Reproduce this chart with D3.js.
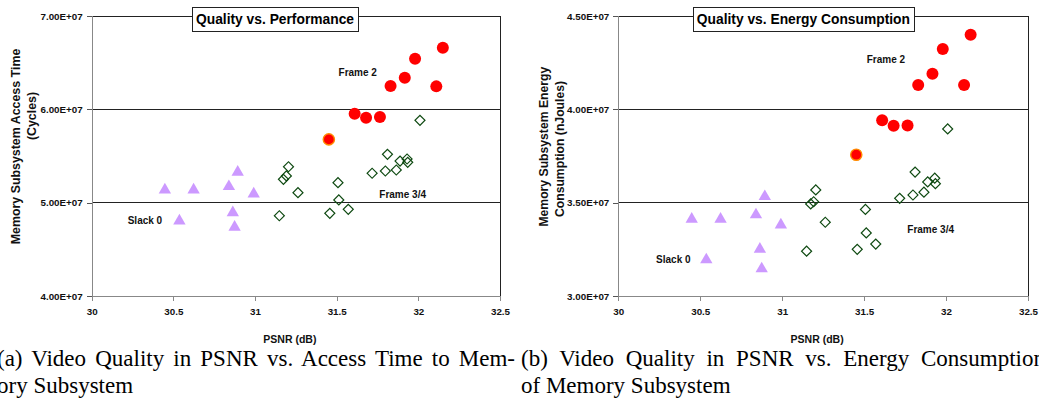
<!DOCTYPE html>
<html>
<head>
<meta charset="utf-8">
<script src="https://cdn.jsdelivr.net/npm/d3@7"></script>
<style>
  html, body { margin: 0; padding: 0; background: #fff; overflow: hidden; }
  svg { display: block; }
</style>
</head>
<body>
<svg id="chart" width="1039" height="402"></svg>
<script>
// ---------- DATA ----------
const psnrTicks = [30, 30.5, 31, 31.5, 32, 32.5];
const timeTicks = [4e7, 5e7, 6e7, 7e7];
const energyTicks = [3e7, 3.5e7, 4e7, 4.5e7];

// Slack 0 (triangles)
const slackPsnr   = [30.448, 30.624, 30.840, 30.894, 30.992, 30.864, 30.875, 30.537];
const slackTime   = [5.153e7, 5.153e7, 5.189e7, 5.342e7, 5.110e7, 4.910e7, 4.753e7, 4.821e7];
const slackEnergy = [3.420e7, 3.420e7, 3.443e7, 3.541e7, 3.389e7, 3.259e7, 3.154e7, 3.202e7];

// Frame 2 (red circles)
const frame2Psnr   = [32.150, 31.980, 31.917, 31.830, 32.110, 31.610, 31.680, 31.765];
const frame2Time   = [6.660e7, 6.543e7, 6.339e7, 6.250e7, 6.246e7, 5.953e7, 5.910e7, 5.917e7];
const frame2Energy = [4.400e7, 4.323e7, 4.191e7, 4.130e7, 4.130e7, 3.941e7, 3.912e7, 3.914e7];

// Baseline point (red circle with orange edge)
const basePsnr   = [31.452];
const baseTime   = [5.678e7];
const baseEnergy = [3.757e7];

// Frame 3/4 (hollow diamonds)
const frame34Psnr   = [31.205, 31.192, 31.174, 31.263, 31.149, 31.508, 31.513, 31.571, 31.458,
                       31.717, 31.811, 31.798, 31.865, 31.888, 31.931, 31.935, 32.010];
const frame34Time   = [5.385e7, 5.286e7, 5.250e7, 5.107e7, 4.860e7, 5.214e7, 5.029e7, 4.929e7, 4.886e7,
                       5.315e7, 5.518e7, 5.339e7, 5.350e7, 5.446e7, 5.468e7, 5.432e7, 5.882e7];
const frame34Energy = [3.568e7, 3.505e7, 3.493e7, 3.395e7, 3.240e7, 3.464e7, 3.338e7, 3.278e7, 3.250e7,
                       3.523e7, 3.664e7, 3.541e7, 3.556e7, 3.611e7, 3.631e7, 3.602e7, 3.895e7];

// Annotation labels [text, psnr, value]
const labelsTime   = [["Slack 0", 30.326, 4.814e7], ["Frame 2", 31.629, 6.397e7], ["Frame 3/4", 31.904, 5.09e7]];
const labelsEnergy = [["Slack 0", 30.336, 3.197e7], ["Frame 2", 31.633, 4.266e7], ["Frame 3/4", 31.906, 3.357e7]];

const titles = ["Quality vs. Performance", "Quality vs. Energy Consumption"];
const yTitles = [["Memory Subsystem Access Time", "(Cycles)"], ["Memory Subsystem Energy", "Consumption (nJoules)"]];
const xTitle = "PSNR (dB)";
const captions = [
  ["(a) Video Quality in PSNR vs. Access Time to Mem-", "ory Subsystem"],
  ["(b) Video Quality in PSNR vs. Energy Consumption", "of Memory Subsystem"]
];

// ---------- DRAW ----------
const svg = d3.select("#chart");
const SANS = "'Liberation Sans', Arial, Helvetica, sans-serif";
const SERIF = "'Liberation Serif', 'Times New Roman', Times, serif";

function fmtE(d) {
  const [m, e] = d.toExponential(2).split("e");
  const sign = e[0];
  const digits = e.slice(1).padStart(2, "0");
  return m + "E" + sign + digits;
}

function drawPanel(cfg) {
  const g = svg.append("g");
  const x = d3.scaleLinear().domain([30, 32.5]).range([cfg.left, cfg.right]);
  const y = d3.scaleLinear().domain(cfg.yDomain).range([cfg.bottom, cfg.top]);

  // gridlines
  g.append("g").selectAll("line").data(cfg.yTicks.slice(1)).join("line")
    .attr("x1", cfg.left).attr("x2", cfg.right)
    .attr("y1", d => y(d)).attr("y2", d => y(d))
    .attr("stroke", "#222").attr("stroke-width", 1).attr("shape-rendering", "crispEdges");

  // right border
  g.append("line").attr("x1", cfg.right).attr("x2", cfg.right)
    .attr("y1", cfg.top).attr("y2", cfg.bottom)
    .attr("stroke", "#222").attr("shape-rendering", "crispEdges");

  // y axis
  const yAxis = g.append("g").attr("transform", `translate(${cfg.left},0)`)
    .call(d3.axisLeft(y).tickValues(cfg.yTicks).tickFormat(fmtE).tickSize(5).tickPadding(4));
  yAxis.select(".domain").attr("stroke", "#888").attr("shape-rendering", "crispEdges");
  yAxis.selectAll(".tick line").attr("stroke", "#555").attr("shape-rendering", "crispEdges");
  yAxis.selectAll("text").attr("font-family", SANS).attr("font-weight", "bold")
    .attr("font-size", "9.8px").attr("fill", "#111");

  // x axis
  const xAxis = g.append("g").attr("transform", `translate(0,${cfg.bottom})`)
    .call(d3.axisBottom(x).tickValues(psnrTicks).tickFormat(d3.format("")).tickSize(5).tickPadding(7));
  xAxis.select(".domain").attr("stroke", "#888").attr("shape-rendering", "crispEdges");
  xAxis.selectAll(".tick line").attr("stroke", "#888").attr("shape-rendering", "crispEdges");
  xAxis.selectAll("text").attr("font-family", SANS).attr("font-weight", "bold")
    .attr("font-size", "9.8px").attr("fill", "#111");

  // x title
  g.append("text").attr("x", (cfg.left + cfg.right) / 2 - 6).attr("y", 339)
    .attr("text-anchor", "middle").attr("dominant-baseline", "central")
    .attr("font-family", SANS).attr("font-weight", "bold").attr("font-size", "10.5px")
    .attr("fill", "#111").text(xTitle);

  // y title lines
  cfg.yTitlePos.forEach((p, i) => {
    g.append("text")
      .attr("transform", `translate(${p[0]},${p[1]}) rotate(-90)`)
      .attr("text-anchor", "middle").attr("dominant-baseline", "central")
      .attr("font-family", SANS).attr("font-weight", "bold").attr("font-size", cfg.yTitleSize)
      .attr("fill", "#111").text(cfg.yTitle[i]);
  });

  // triangles
  const tri = d3.symbol().type(d3.symbolTriangle).size(66);
  g.append("g").selectAll("path").data(d3.range(slackPsnr.length)).join("path")
    .attr("d", tri)
    .attr("transform", i => `translate(${x(slackPsnr[i])},${y(cfg.slack[i]) + 1.5})`)
    .attr("fill", "#CC99FF");

  // diamonds
  const dia = d3.symbol().type(d3.symbolSquare).size(50);
  g.append("g").selectAll("path").data(d3.range(frame34Psnr.length)).join("path")
    .attr("d", dia)
    .attr("transform", i => `translate(${x(frame34Psnr[i])},${y(cfg.f34[i])}) rotate(45)`)
    .attr("fill", "none").attr("stroke", "#0f4a12").attr("stroke-width", 1.2);

  // baseline circle
  g.append("g").selectAll("circle").data(d3.range(basePsnr.length)).join("circle")
    .attr("cx", i => x(basePsnr[i])).attr("cy", i => y(cfg.base[i])).attr("r", 5.6)
    .attr("fill", "#FF0000").attr("stroke", "#FF8C00").attr("stroke-width", 1.4);

  // frame 2 circles
  g.append("g").selectAll("circle").data(d3.range(frame2Psnr.length)).join("circle")
    .attr("cx", i => x(frame2Psnr[i])).attr("cy", i => y(cfg.f2[i])).attr("r", 6)
    .attr("fill", "#FF0000");

  // annotations
  g.append("g").selectAll("text").data(cfg.labels).join("text")
    .attr("x", d => x(d[1])).attr("y", d => y(d[2]))
    .attr("text-anchor", "middle").attr("dominant-baseline", "central")
    .attr("font-family", SANS).attr("font-weight", "bold").attr("font-size", "10px")
    .attr("fill", "#111").text(d => d[0]);

  // title box
  const tb = g.append("g");
  const tt = tb.append("text").attr("x", cfg.titleX).attr("y", 19.8)
    .attr("text-anchor", "middle").attr("dominant-baseline", "central")
    .attr("font-family", SANS).attr("font-weight", "bold").attr("font-size", "13.8px")
    .attr("fill", "#000").text(cfg.title);
  const w = tt.node().getComputedTextLength();
  tb.insert("rect", "text")
    .attr("x", Math.round(cfg.titleX - w / 2 - 4) + 0.5).attr("y", 7.5)
    .attr("width", Math.round(w + 8)).attr("height", 24)
    .attr("fill", "#fff").attr("stroke", "#222").attr("stroke-width", 1);

  // caption
  cfg.caption.forEach((line, i) => {
    const t = svg.append("text").attr("x", cfg.capX).attr("y", 366 + i * 27)
      .attr("font-family", SERIF).attr("font-size", "23px").attr("fill", "#000").text(line);
    if (i === 0) {
      const nat = t.node().getComputedTextLength();
      const spaces = (line.match(/ /g) || []).length;
      const ws = (cfg.capWidth - nat) / spaces;
      t.attr("word-spacing", ws);
    }
  });
}

drawPanel({
  left: 91.7, right: 500, top: 16, bottom: 296,
  yDomain: [4e7, 7e7], yTicks: timeTicks,
  slack: slackTime, f2: frame2Time, base: baseTime, f34: frame34Time,
  labels: labelsTime, title: titles[0], titleX: 275,
  yTitle: yTitles[0], yTitlePos: [[16, 146.5], [32, 116]], yTitleSize: "12.4px",
  caption: captions[0], capX: -3, capWidth: 518
});

drawPanel({
  left: 618.3, right: 1028, top: 16, bottom: 296,
  yDomain: [3e7, 4.5e7], yTicks: energyTicks,
  slack: slackEnergy, f2: frame2Energy, base: baseEnergy, f34: frame34Energy,
  labels: labelsEnergy, title: titles[1], titleX: 803.4,
  yTitle: yTitles[1], yTitlePos: [[543.5, 146.7], [559.5, 149]], yTitleSize: "12.2px",
  caption: captions[1], capX: 521, capWidth: 524
});
</script>
</body>
</html>
